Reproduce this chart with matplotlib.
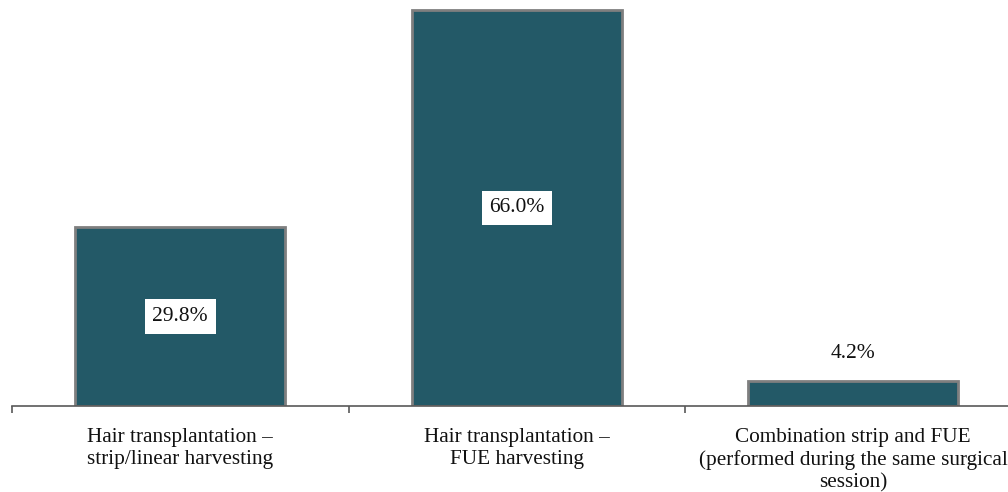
import matplotlib
matplotlib.use("Agg")
import matplotlib.pyplot as plt

categories = [
    "Hair transplantation \u2013\nstrip/linear harvesting",
    "Hair transplantation \u2013\nFUE harvesting",
    "Combination strip and FUE\n(performed during the same surgical\nsession)",
]
values = [29.8, 66.0, 4.2]
boxed = [True, True, False]

plt.rcParams['font.family'] = ['Liberation Serif', 'DejaVu Serif']

fig = plt.figure(figsize=(10.08, 4.92), dpi=100)
# axes runs past the right edge of the figure, as in the reference
ax = fig.add_axes([12 / 1008, 86 / 492, 1009.5 / 1008, 406 / 492])

x = list(range(len(values)))
bars = ax.bar(x, values, width=0.625, color='#235967', edgecolor='#7f7f7f', linewidth=2, zorder=2)

ax.set_xlim(-0.5, len(values) - 0.5)
ax.set_ylim(0, 67.6)

for xi, v, b in zip(x, values, boxed):
    if b:
        ax.text(xi, v / 2, f"{v:.1f}%", ha='center', va='center', fontsize=15.5, color='#111111',
                bbox=dict(facecolor='white', edgecolor='none', pad=5.5), zorder=3)
    else:
        ax.text(xi, v + 4.5, f"{v:.1f}%", ha='center', va='center', fontsize=15.5, color='#111111')

for s in ['top', 'right', 'left']:
    ax.spines[s].set_visible(False)
ax.spines['bottom'].set_color('#595959')
ax.spines['bottom'].set_linewidth(1.2)
ax.set_yticks([])

ax.set_xticks([-0.5, 0.5, 1.5, 2.5])
ax.set_xticklabels([])
ax.set_xticks(x, minor=True)
ax.set_xticklabels(categories, minor=True, fontsize=15.3, color='#111111', linespacing=1.22)
ax.tick_params(axis='x', which='major', length=5, color='#595959', width=1.2, direction='out')
ax.tick_params(axis='x', which='minor', length=0, pad=15.5)

fig.savefig('out.png', dpi=100)
